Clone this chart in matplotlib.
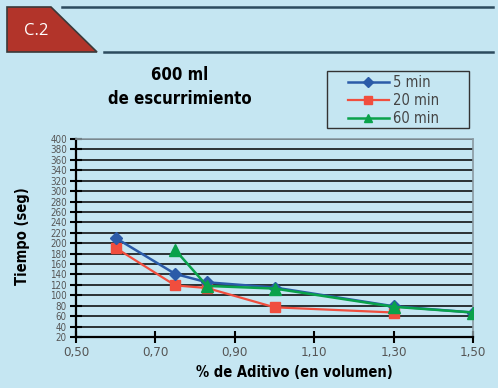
import numpy as np
import matplotlib.pyplot as plt
from matplotlib.patches import Polygon, Rectangle
from matplotlib.lines import Line2D

# datos
x5 = [0.60, 0.75, 0.83, 1.00, 1.30, 1.50]
t5 = [210, 141, 125, 115, 79, 67]
x20 = [0.60, 0.75, 0.83, 1.00, 1.30]
t20 = [191, 119, 114, 77, 67]
x60 = [0.75, 0.83, 1.00, 1.30, 1.50]
t60 = [187, 118, 113, 78, 67]
xticks = [0.50, 0.70, 0.90, 1.10, 1.30, 1.50]
yticks = list(range(20, 401, 20))

bg = '#c5e6f2'
plt.rcParams['font.family'] = ['DejaVu Sans']
plt.rcParams['font.stretch'] = 'condensed'

fig = plt.figure(figsize=(4.98, 3.88), dpi=100)
fig.patch.set_facecolor(bg)

# cabecera
W, H = 498, 388
def fx(px): return px / W
def fy(py): return 1 - py / H
tab = Polygon([(fx(7), fy(7)), (fx(51), fy(7)), (fx(97), fy(52)), (fx(7), fy(52))],
              closed=True, transform=fig.transFigure, facecolor='#b2342a',
              edgecolor='#3a3a3a', lw=1.2)
fig.patches.append(tab)
fig.lines.append(Line2D([fx(62), fx(493)], [fy(7), fy(7)], transform=fig.transFigure,
                        color='#2c4b5e', lw=1.8))
fig.lines.append(Line2D([fx(104), fx(493)], [fy(52), fy(52)], transform=fig.transFigure,
                        color='#2c4b5e', lw=1.8))
fig.text(fx(36), fy(31), 'C.2', color='white', fontsize=12, ha='center', va='center',
         family=['Open Sans', 'DejaVu Sans'], stretch='normal')

ax = fig.add_axes([76 / W, 1 - 337 / H, (473 - 76) / W, (337 - 139) / H])
ax.set_facecolor(bg)

ax.plot(x20, t20, color='#f04e3e', lw=1.6, marker='s', ms=7, zorder=3, label='20 min')
ax.plot(x5, t5, color='#2b5ba8', lw=1.8, marker='D', ms=6.5, zorder=4, label='5 min')
ax.plot(x60, t60, color='#0aa24b', lw=1.8, marker='^', ms=8, zorder=5, label='60 min')

ax.set_xlim(0.5, 1.5)
ax.set_ylim(20, 400)
ax.set_xticks(xticks)
ax.set_xticklabels([f'{v:.2f}'.replace('.', ',') for v in xticks])
ax.set_yticks(yticks)
ax.set_yticklabels([str(v) for v in yticks])
ax.yaxis.grid(True, color='black', lw=1.1)
ax.set_axisbelow(True)
ax.tick_params(axis='both', direction='inout', length=9, width=1.5, colors='black',
               labelcolor='#555555', labelsize=9.5)
ax.tick_params(axis='y', length=9, pad=2, labelsize=7)
ax.tick_params(axis='x', pad=2)
for s in ['left', 'bottom']:
    ax.spines[s].set_color('black')
    ax.spines[s].set_linewidth(1.6)
for s in ['top', 'right']:
    ax.spines[s].set_color('#8a9aa2')
    ax.spines[s].set_linewidth(1.2)

ax.set_xlabel('% de Aditivo (en volumen)', fontsize=10.5, fontweight='bold')
ax.xaxis.set_label_coords(0.55, -0.14)
ax.set_ylabel('Tiempo (seg)', fontsize=10.5, fontweight='bold')
ax.yaxis.set_label_coords(-0.115, 0.51)

fig.text(fx(180), fy(87), '600 ml\nde escurrimiento', fontsize=12, fontweight='bold',
         ha='center', va='center', linespacing=1.4)

# leyenda con marco propio
fig.patches.append(Rectangle((fx(327), fy(128)), fx(469) - fx(327), fy(71) - fy(128),
                             transform=fig.transFigure, facecolor='none',
                             edgecolor='#333333', lw=1.0))
h, l = ax.get_legend_handles_labels()
order = [1, 0, 2]
leg = fig.legend([h[i] for i in order], [l[i] for i in order],
                 loc='upper left', bbox_to_anchor=(fx(348), fy(75)),
                 frameon=False, handlelength=2.8, handletextpad=0.3,
                 labelspacing=0.22, borderpad=0.0, borderaxespad=0,
                 prop={'size': 10.5}, markerscale=0.8)
for t in leg.get_texts():
    t.set_color('#444444')

fig.savefig('out.png', dpi=100, facecolor=bg)
